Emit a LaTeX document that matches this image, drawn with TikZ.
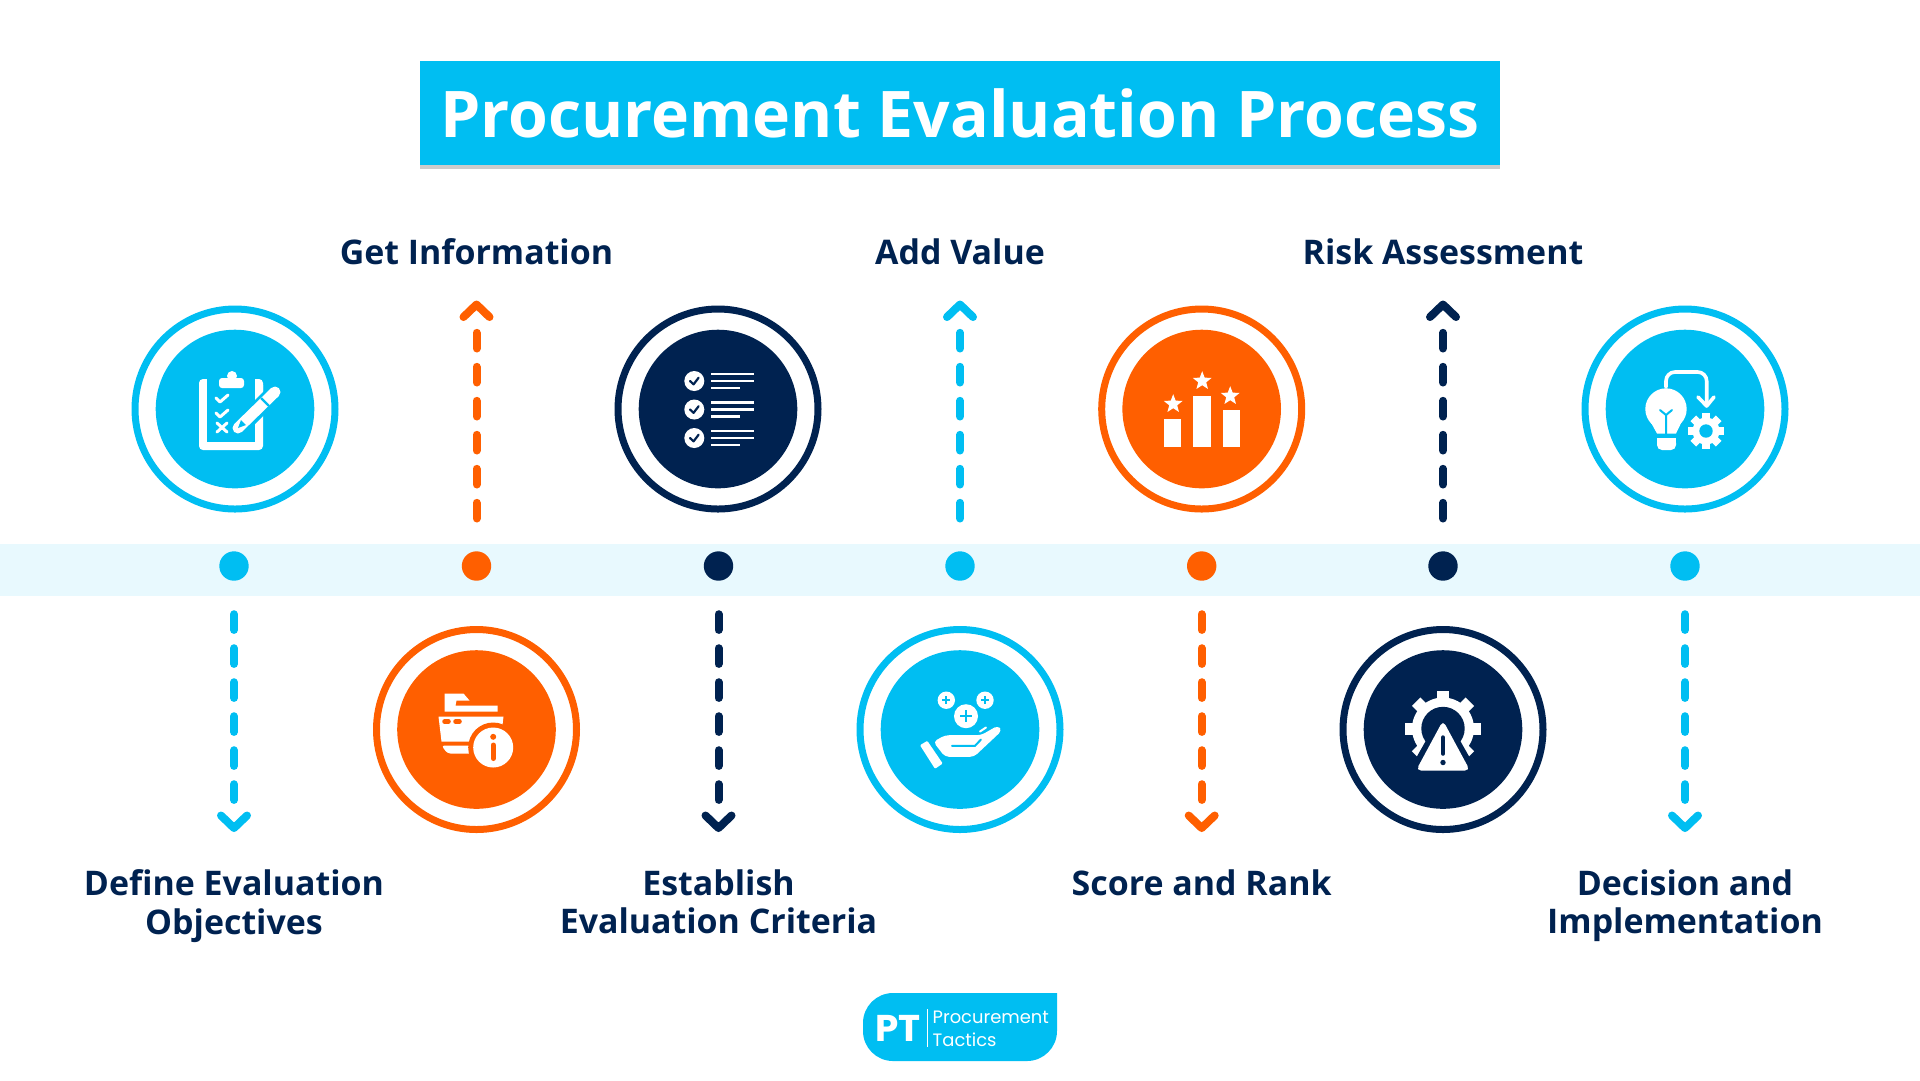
\documentclass[tikz,border=0pt]{standalone}
\usepackage{fontspec}
\setmainfont{Open Sans}
\newfontfamily\logofont{Poppins}
\usetikzlibrary{arrows.meta,positioning,shadows}
\definecolor{ptcyan}{RGB}{0,190,242}
\definecolor{ptnavy}{RGB}{0,34,80}
\definecolor{ptorange}{RGB}{255,95,0}
\definecolor{ptband}{RGB}{232,249,254}
\tikzset{
  ringnode/.style={circle, draw=#1, line width=0.7mm, minimum size=20mm, inner sep=0pt},
  discnode/.style={circle, fill=#1, minimum size=15.86mm, inner sep=0pt},
  dotnode/.style={circle, fill=#1, minimum size=2.94mm, inner sep=0pt, outer sep=0pt},
  dashln/.style={draw=#1, line width=0.8mm, line cap=round,
    dash pattern=on 1.57mm off 1.83mm on 1.57mm off 1.83mm on 1.57mm off 1.83mm
      on 1.57mm off 1.83mm on 1.57mm off 1.83mm on 1.57mm off 9mm,
    -{Straight Barb[length=1.25mm,width=2.6mm,round]}},
  steplabel/.style={ptnavy, font=\fontsize{9.65pt}{10.95pt}\selectfont\bfseries, align=center, inner sep=0pt},
  iconln/.style={white, line cap=round, line join=round},
}
% cog: centre, body radius, tooth reach, tooth width, hole radius, hole colour
\newcommand{\gearshape}[6]{%
  \foreach \a in {0,45,...,315}
    \draw[white, line width=#4] #1 -- ++(\a:#3);
  \fill[white] #1 circle (#2);
  \fill[#6] #1 circle (#5);
}
\newcommand{\starpt}[1]{%
  \fill[white, shift={#1}] plot[domain=0:10, samples=11]
    ({(mod(\x,2)==0 ? 9.8 : 4.2)*cos(90+36*\x)}, {-(mod(\x,2)==0 ? 9.8 : 4.2)*sin(90+36*\x)}) -- cycle;
}
\newcommand{\iconclip}[1]{%
  \fill[white, rounded corners=0.4mm] (-36,-30) rectangle (28,41);
  \fill[#1] (-28,-33) rectangle (20,33);
  \fill[white] (20,-24) -- (28,-24) -- (28,-12) -- (20,-4) -- cycle;
  \fill[white, rounded corners=0.3mm] (-16,-31) rectangle (9,-21);
  \fill[white] (-3,-33) circle (5);
  \draw[iconln, line width=0.3mm] (-19,-11) -- (-15,-7) -- (-7,-14);
  \draw[iconln, line width=0.3mm] (-19,4) -- (-15,8) -- (-7,1);
  \draw[iconln, line width=0.3mm] (-18,14) -- (-8,23) (-8,14) -- (-18,23);
  % pencil over the board
  \draw[#1, line width=1.7mm, line cap=round] (3,20) -- (41,-18);
  \draw[white, line width=1.1mm, line cap=round] (3,19) -- (40,-17);
  \draw[#1, line width=0.22mm] (26,-11) -- (34,-3);
  \fill[#1] (3,19) -- (6,11) -- (11,16) -- cycle;
}
\newcommand{\iconlist}[1]{%
  \foreach \y in {-28,0.5,29} {
    \fill[white] (-23.7,\y) circle (10);
    \draw[#1, line width=0.22mm, line cap=round, line join=round]
      (-28,\y) -- (-24.4,\y+3.3) -- (-19.4,\y-3.3);
    \draw[white, line width=0.23mm] (-7,\y-7) -- (35.7,\y-7) (-7,\y) -- (35.7,\y) (-7,\y+7) -- (21.7,\y+7);
  }
}
\newcommand{\iconbars}[1]{%
  \fill[white] (-37.7,10.3) rectangle (-20.3,38.3);
  \fill[white] (-8.3,-13) rectangle (9,38.3);
  \fill[white] (21.3,1) rectangle (38.3,38.3);
  \starpt{(-28.5,-5)}
  \starpt{(0.5,-28)}
  \starpt{(28.5,-13)}
}
\newcommand{\iconbulb}[1]{%
  \fill[white] (-19,0) circle (20.7);
  \fill[white] (-36,10) -- (-2,10) -- (-9,24.5) -- (-28,24.5) -- cycle;
  \fill[white, rounded corners=0.5mm] (-28,29) -- (-9,29) -- (-9,41) -- (-28,41) -- cycle;
  \fill[white] (-28,29) rectangle (-9,34);
  \draw[#1, line width=0.2mm, line cap=round, line join=round]
    (-19,25) -- (-19,6) (-25,1) -- (-19,6) -- (-13,1);
  \draw[iconln, line width=0.36mm, rounded corners=0.9mm]
    (-19,-22) -- (-19,-37) -- (21.7,-37) -- (21.7,-5);
  \draw[iconln, line width=0.36mm] (13,-12) -- (21.7,-3) -- (29,-12);
  \gearshape{(21,22)}{13.5}{18}{0.8mm}{6.7}{#1}
}
\newcommand{\iconfile}[1]{%
  \fill[white] (-32,-36) -- (-13,-36) -- (-7,-29) -- (-20,-29) -- (-21,-24) -- (21,-24)
    -- (21,-18) -- (-32,-18) -- cycle;
  \fill[white] (-38,-13) -- (27,-13) -- (24,12) -- (-35,12) -- cycle;
  \fill[white, rounded corners=0.3mm] (-35,16) -- (0,16) -- (0,24) -- (-29,24) -- cycle;
  \draw[#1, line width=0.45mm, line cap=round] (-32,-8) -- (-28,-8) (-21,-8) -- (-17,-8);
  \fill[#1] (16.7,18) circle (25);
  \fill[white] (16.7,18) circle (20);
  \fill[#1] (16.7,7.3) circle (3);
  \draw[#1, line width=0.5mm, line cap=round] (16.7,15.5) -- (16.7,29);
}
\newcommand{\iconhand}[1]{%
  \foreach \cx/\cy/\rr/\pp in {-13.7/-29.3/8.7/4, 25/-29.3/8.7/4, 6/-13.3/12/6} {
    \fill[white] (\cx,\cy) circle (\rr);
    \draw[#1, line width=0.2mm] (\cx-\pp,\cy) -- (\cx+\pp,\cy) (\cx,\cy-\pp) -- (\cx,\cy+\pp);
  }
  \fill[white, rounded corners=0.1mm] (-40,15.7) -- (-32.7,11.3) -- (-17.3,34) -- (-25,39.3) -- cycle;
  \fill[white, rounded corners=0.4mm] (-26.7,12.3) -- (-15,5.7) -- (21,5.7) -- (38,-4) -- (42,1)
    -- (14,27.3) -- (-15,27.3) -- cycle;
  \draw[#1, line width=0.2mm, line cap=round] (-8,16.3) -- (15,16.3) -- (21,10);
  \draw[white, line width=0.2mm, line cap=round] (20,2) -- (26,-2);
}
\newcommand{\iconrisk}[1]{%
  \gearshape{(0,-1)}{31}{38}{1.2mm}{21.7}{#1}
  \fill[#1] (0,-19) -- (38,48) -- (-38,48) -- cycle;
  \fill[white, rounded corners=0.5mm] (0,-9) -- (27,41) -- (-27,41) -- cycle;
  \draw[#1, line width=0.45mm, line cap=round] (0,8) -- (0,24);
  \fill[#1] (0,33) circle (2.7);
}
\begin{document}
\begin{tikzpicture}[x=0.1mm, y=-0.1mm]
  \useasboundingbox (0,0) rectangle (1920,1080);
  % band behind the dots
  \fill[ptband] (0,544) rectangle (1920,596);
  % title
  \node[fill=ptcyan, text=white, minimum width=108mm, minimum height=10.4mm, inner sep=0pt,
        font=\fontsize{18.3pt}{20pt}\selectfont\bfseries,
        drop shadow={shadow xshift=0mm, shadow yshift=-0.4mm, opacity=0.4}]
    (title) at (960,113) {Procurement Evaluation Process};
  % steps with the ring above the band
  \foreach \nm/\x/\colr/\lab in {B/476.5/ptorange/{Get Information}, D/960/ptcyan/{Add Value},
                                 F/1443/ptnavy/{Risk Assessment}} {
    \node[dotnode=\colr] (dot\nm) at (\x,566) {};
    \coordinate (tip\nm) at (\x,300.5);
    \draw[dashln=\colr, shorten <=3.28mm] (dot\nm.north) -- (tip\nm);
    \node[steplabel] (label\nm) at (\x,252) {\lab};
    \node[ringnode=\colr] (ring\nm) at (\x,729.5) {};
    \node[discnode=\colr] (disc\nm) at (\x,729.5) {};
  }
  % steps with the ring below the band
  \foreach \nm/\x/\rx/\colr/\lab in {A/234/235/ptcyan/{Define Evaluation\\Objectives},
                                     C/718.5/718/ptnavy/{Establish\\Evaluation Criteria},
                                     E/1201.7/1201.7/ptorange/{Score and Rank},
                                     G/1685/1685/ptcyan/{Decision and\\Implementation}} {
    \node[dotnode=\colr] (dot\nm) at (\x,566) {};
    \coordinate (tip\nm) at (\x,832);
    \draw[dashln=\colr, shorten <=3.35mm] (dot\nm.south) -- (tip\nm);
    \node[steplabel, anchor=north] (label\nm) at (\x,869) {\lab};
    \node[ringnode=\colr] (ring\nm) at (\rx,409) {};
    \node[discnode=\colr] (disc\nm) at (\rx,409) {};
  }
  % icons
  \begin{scope}[shift={(discA.center)}] \iconclip{ptcyan} \end{scope}
  \begin{scope}[shift={(discC.center)}] \iconlist{ptnavy} \end{scope}
  \begin{scope}[shift={(discE.center)}] \iconbars{ptorange} \end{scope}
  \begin{scope}[shift={(discG.center)}] \iconbulb{ptcyan} \end{scope}
  \begin{scope}[shift={(discB.center)}] \iconfile{ptorange} \end{scope}
  \begin{scope}[shift={(discD.center)}] \iconhand{ptcyan} \end{scope}
  \begin{scope}[shift={(discF.center)}] \iconrisk{ptnavy} \end{scope}
  % logo
  \fill[ptcyan, rounded corners=3mm] (960,993) [sharp corners] -- (1057,993) [rounded corners=3mm]
    -- (1057,1061) -- (863,1061) -- (863,993) -- cycle;
  \node[white, inner sep=0pt, font=\logofont\bfseries\fontsize{10.6pt}{12pt}\selectfont]
    (logoPT) at (898,1028) {PT};
  \node[white, inner sep=0pt, anchor=west, align=left, font=\logofont\fontsize{5.1pt}{6.7pt}\selectfont]
    (logoName) at (932,1029) {Procurement\\Tactics};
  \draw[white, line width=0.07mm] (927,1009) -- (927,1047);
\end{tikzpicture}
\end{document}
